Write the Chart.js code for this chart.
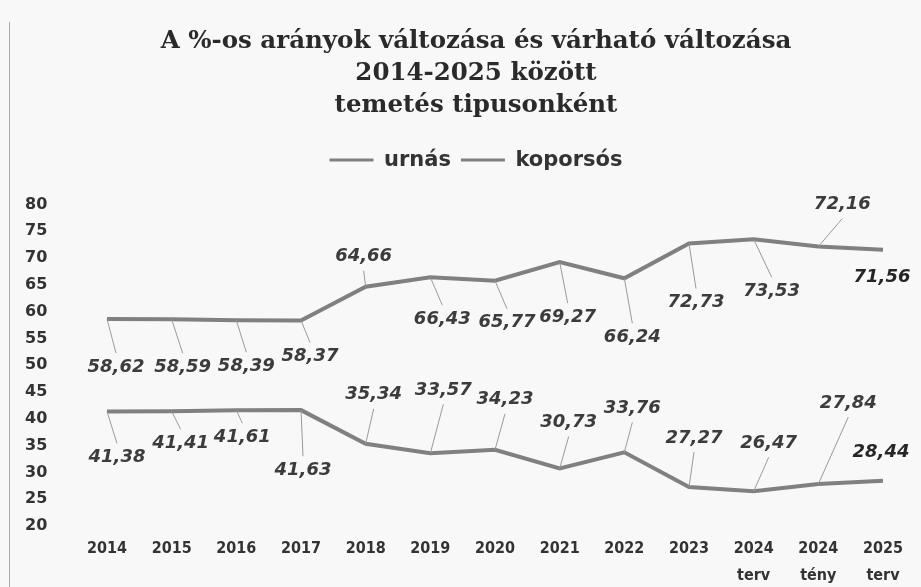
<!DOCTYPE html>
<html>
<head>
<meta charset="utf-8">
<script src="https://cdn.jsdelivr.net/npm/chart.js@4/dist/chart.umd.min.js"></script>
<style>
    body { margin: 0; background: #f8f8f8; }
    #wrap { position: relative; width: 921px; height: 587px; }
    #frame { position: absolute; left: 9px; top: 22px; bottom: 0; border-left: 1px solid #aaa; }
</style>
</head>
<body>
<div id="wrap">
    <div id="frame"></div>
    <canvas id="chart" width="921" height="587"></canvas>
</div>
<script>
const categories = ['2014', '2015', '2016', '2017', '2018', '2019', '2020', '2021', '2022', '2023',
    ['2024', 'terv'], ['2024', 'tény'], ['2025', 'terv']];
const urnas = [41.38, 41.41, 41.61, 41.63, 35.34, 33.57, 34.23, 30.73, 33.76, 27.27, 26.47, 27.84, 28.44];
const koporsos = [58.62, 58.59, 58.39, 58.37, 64.66, 66.43, 65.77, 69.27, 66.24, 72.73, 73.53, 72.16, 71.56];
const yTicks = { min: 20, max: 80, step: 5 };

// label placement relative to each point [dx, dy, leader?]
const urnasOffsets = [[10, 46, 1], [9, 32, 1], [6, 27, 1], [2, 60, 1], [8, -49, 1], [13, -63, 1], [10, -50, 1],
    [9, -46, 1], [8, -44, 1], [5, -49, 1], [15, -48, 1], [30, -81, 1], [-2, -28, 0]];
const koporsosOffsets = [[9, 48, 1], [11, 48, 1], [10, 46, 1], [9, 36, 1], [-2, -30, 1], [12, 42, 1], [12, 42, 1],
    [8, 55, 1], [8, 59, 1], [7, 59, 1], [18, 52, 1], [24, -42, 1], [-1, 28, 0]];

const lineGray = '#808080';

const valueLabels = {
    id: 'valueLabels',
    afterDatasetsDraw(chart) {
        const ctx = chart.ctx;
        const offsets = [urnasOffsets, koporsosOffsets];
        ctx.save();
        chart.data.datasets.forEach((ds, di) => {
            const meta = chart.getDatasetMeta(di);
            meta.data.forEach((pt, i) => {
                const [dx, dy, leader] = offsets[di][i];
                const lx = pt.x + dx;
                const ly = pt.y + dy;
                if (leader) {
                    ctx.strokeStyle = '#9a9a9a';
                    ctx.lineWidth = 1;
                    ctx.beginPath();
                    ctx.moveTo(pt.x, pt.y);
                    ctx.lineTo(lx, ly - Math.sign(dy) * 14);
                    ctx.stroke();
                }
                ctx.font = 'italic bold 18px "DejaVu Sans"';
                ctx.fillStyle = i === ds.data.length - 1 ? '#262626' : '#3c3c3c';
                ctx.textAlign = 'center';
                ctx.textBaseline = 'middle';
                ctx.fillText(ds.data[i].toFixed(2).replace('.', ','), lx, ly);
            });
        });
        ctx.restore();
    }
};

const legendSpace = {
    id: 'legendSpace',
    beforeInit(chart) {
        const fit = chart.legend.fit;
        chart.legend.fit = function () {
            fit.bind(chart.legend)();
            this.height += 24;
        };
    }
};

new Chart(document.getElementById('chart'), {
    type: 'line',
    data: {
        labels: categories,
        datasets: [{
            label: 'urnás',
            data: urnas,
            borderColor: lineGray,
            backgroundColor: lineGray,
            borderWidth: 4,
            pointRadius: 0,
            tension: 0
        }, {
            label: 'koporsós',
            data: koporsos,
            borderColor: lineGray,
            backgroundColor: lineGray,
            borderWidth: 4,
            pointRadius: 0,
            tension: 0
        }]
    },
    options: {
        responsive: false,
        animation: false,
        layout: { padding: { left: 69, right: 38, top: 0, bottom: 0 } },
        plugins: {
            title: {
                display: true,
                text: ['A %-os arányok változása és várható változása', '2014-2025 között', 'temetés tipusonként'],
                font: { family: '"DejaVu Serif"', size: 24.5, weight: 'bold', lineHeight: 1.3 },
                color: '#2a2a2a',
                padding: { top: 26, bottom: 18 }
            },
            legend: {
                labels: {
                    font: { family: '"DejaVu Sans"', size: 21, weight: 'bold' },
                    color: '#333',
                    boxWidth: 44,
                    boxHeight: 3,
                    padding: 10,
                    generateLabels(chart) {
                        const items = Chart.defaults.plugins.legend.labels.generateLabels(chart);
                        items.forEach(it => { it.lineWidth = 0; });
                        return items;
                    }
                }
            },
            tooltip: { enabled: false }
        },
        scales: {
            x: {
                offset: false,
                grid: { display: false, drawTicks: false },
                border: { display: false },
                afterFit(scale) { scale.height = 61; },
                ticks: {
                    padding: 9,
                    color: '#333',
                    maxRotation: 0,
                    autoSkip: false,
                    font: { family: '"DejaVu Sans Condensed", "DejaVu Sans"', size: 16, weight: 'bold', lineHeight: 1.7 }
                }
            },
            y: {
                min: yTicks.min,
                max: yTicks.max,
                grid: { display: false, drawTicks: false },
                border: { display: false },
                afterFit(scale) { scale.width = 38; },
                ticks: {
                    stepSize: yTicks.step,
                    mirror: true,
                    crossAlign: 'near',
                    padding: -82,
                    color: '#333',
                    font: { family: '"DejaVu Sans"', size: 16, weight: 'bold' }
                }
            }
        }
    },
    plugins: [valueLabels, legendSpace]
});
</script>
</body>
</html>
